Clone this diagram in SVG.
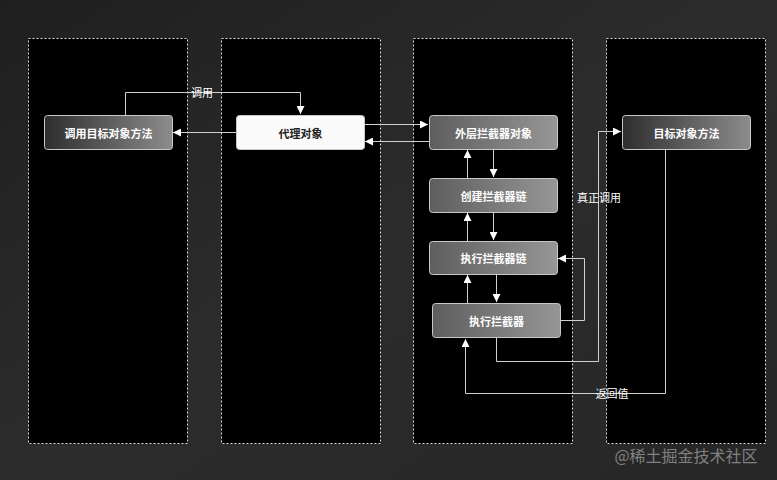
<svg xmlns="http://www.w3.org/2000/svg" width="777" height="480" viewBox="0 0 777 480">
<style>
.lane{fill:#000;stroke:#ddd;stroke-width:1;stroke-dasharray:2 2}
.node{stroke:#c8c8c8;stroke-width:1}
.t{font-family:"Noto Sans CJK SC","Noto Sans",sans-serif;font-size:11px;font-weight:bold;fill:#fff;text-anchor:middle;dominant-baseline:central}
.lbl{font-family:"Noto Sans CJK SC","Noto Sans",sans-serif;font-size:11px;fill:#fff;text-anchor:middle;dominant-baseline:central}
.c{fill:none;stroke:#d0d0d0;stroke-width:1}
</style>
<defs>
<linearGradient id="gDark" x1="0" y1="0" x2="1" y2="0">
<stop offset="0" stop-color="#2e2e2e"/><stop offset="1" stop-color="#8c8c8c"/>
</linearGradient>
<linearGradient id="gMid" x1="0" y1="0" x2="1" y2="0">
<stop offset="0" stop-color="#5e5e5e"/><stop offset="1" stop-color="#969696"/>
</linearGradient>
<linearGradient id="bg" x1="0" y1="0" x2="1" y2="1">
<stop offset="0" stop-color="#1f1f1f"/><stop offset="0.5" stop-color="#2c2c2c"/><stop offset="1" stop-color="#262626"/>
</linearGradient>
<marker id="ah" viewBox="0 0 10 10" refX="10" refY="5" markerWidth="8" markerHeight="8" markerUnits="userSpaceOnUse" orient="auto">
<path d="M0,0 L10,5 L0,10 z" fill="#fff"/>
</marker>
</defs>
<rect width="777" height="480" fill="url(#bg)"/>
<g id="lanes">
<rect class="lane" x="28.5" y="38.5" width="159" height="405"/>
<rect class="lane" x="221.5" y="38.5" width="159" height="405"/>
<rect class="lane" x="413.5" y="38.5" width="159" height="405"/>
<rect class="lane" x="606.5" y="38.5" width="159" height="405"/>
</g>
<g id="connectors">
<polyline class="c" points="125.5,115 125.5,92.5 300.5,92.5 300.5,114" marker-end="url(#ah)"/>
<line class="c" x1="236" y1="132.5" x2="173" y2="132.5" marker-end="url(#ah)"/>
<line class="c" x1="364" y1="124.5" x2="428" y2="124.5" marker-end="url(#ah)"/>
<line class="c" x1="429" y1="141.5" x2="365" y2="141.5" marker-end="url(#ah)"/>
<line class="c" x1="493.5" y1="149" x2="493.5" y2="177" marker-end="url(#ah)"/>
<line class="c" x1="467.5" y1="178" x2="467.5" y2="150" marker-end="url(#ah)"/>
<line class="c" x1="493.5" y1="212" x2="493.5" y2="240" marker-end="url(#ah)"/>
<line class="c" x1="467.5" y1="241" x2="467.5" y2="213" marker-end="url(#ah)"/>
<line class="c" x1="496.5" y1="274" x2="496.5" y2="302" marker-end="url(#ah)"/>
<line class="c" x1="467.5" y1="303" x2="467.5" y2="275" marker-end="url(#ah)"/>
<polyline class="c" points="561,320.5 584.5,320.5 584.5,258.5 558,258.5" marker-end="url(#ah)"/>
<polyline class="c" points="496.5,338 496.5,361.5 598.5,361.5 598.5,131.5 621,131.5" marker-end="url(#ah)"/>
<polyline class="c" points="665.5,150 665.5,393.5 465.5,393.5 465.5,339" marker-end="url(#ah)"/>
<text class="lbl" x="202" y="92">调用</text>
<text class="lbl" x="599" y="197">真正调用</text>
<text class="lbl" x="612" y="393">返回值</text>
</g>
<g id="n1"><rect class="node" x="44.5" y="115.5" width="128" height="34" rx="3" fill="url(#gDark)"/><text class="t" x="108.5" y="132.5">调用目标对象方法</text></g>
<g id="n2"><rect class="node" x="236.5" y="115.5" width="128" height="34" rx="3" fill="#fafafa"/><text class="t" x="300.5" y="132.5" style="fill:#222">代理对象</text></g>
<g id="n3"><rect class="node" x="429.5" y="115.5" width="128" height="34" rx="3" fill="url(#gMid)"/><text class="t" x="493.5" y="132.5">外层拦截器对象</text></g>
<g id="n4"><rect class="node" x="429.5" y="178.5" width="128" height="34" rx="3" fill="url(#gMid)"/><text class="t" x="493.5" y="195.5">创建拦截器链</text></g>
<g id="n5"><rect class="node" x="429.5" y="241.5" width="128" height="33" rx="3" fill="url(#gMid)"/><text class="t" x="493.5" y="258">执行拦截器链</text></g>
<g id="n6"><rect class="node" x="432.5" y="303.5" width="128" height="34" rx="3" fill="url(#gMid)"/><text class="t" x="496.5" y="320.5">执行拦截器</text></g>
<g id="n7"><rect class="node" x="622.5" y="115.5" width="128" height="34" rx="3" fill="url(#gDark)"/><text class="t" x="686.5" y="132.5">目标对象方法</text></g>
<text x="686" y="455" style="font-family:'Noto Sans CJK SC','Noto Sans',sans-serif;font-size:16px;fill:#808080;text-anchor:middle;dominant-baseline:central">@稀土掘金技术社区</text>
</svg>
